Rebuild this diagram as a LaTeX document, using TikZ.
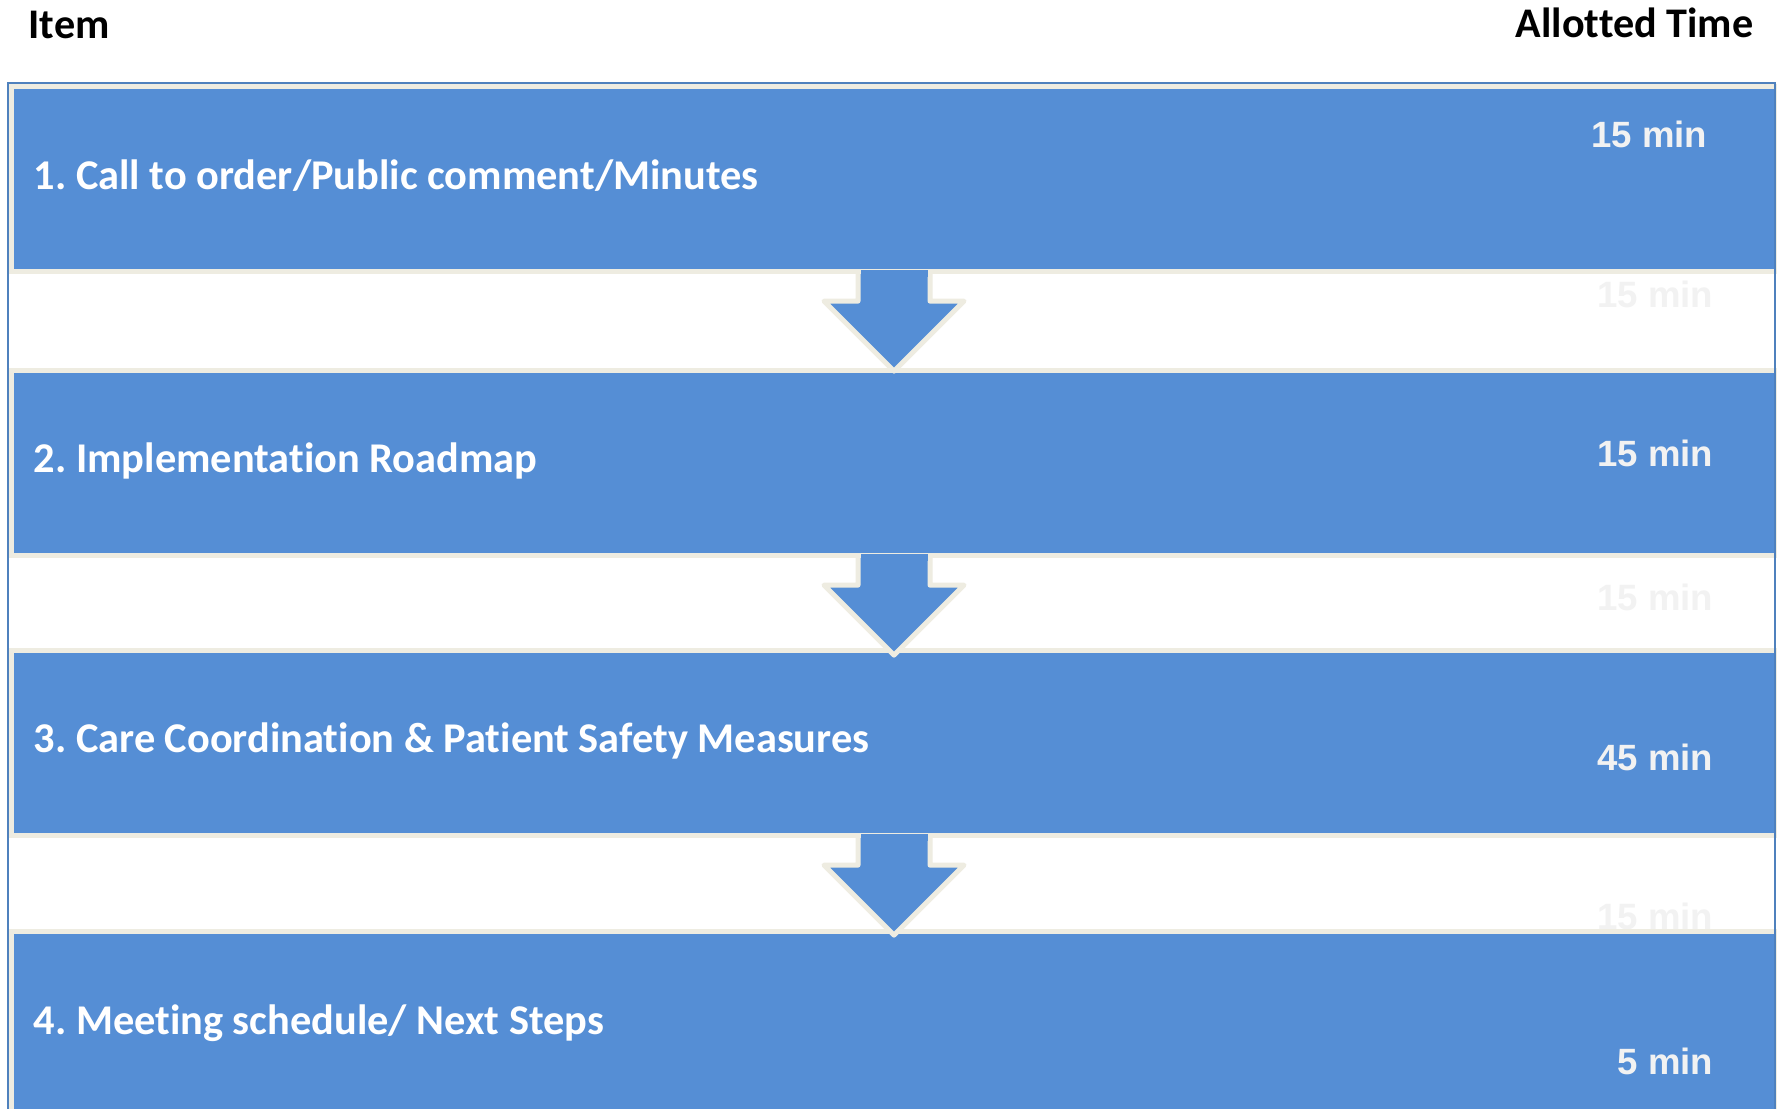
\documentclass[tikz,border=0pt]{standalone}
\usepackage{fontspec}
\setmainfont{Carlito}[Ligatures=NoCommon]
\newfontfamily\timefont{Liberation Sans}
\usetikzlibrary{calc}
\definecolor{barblue}{HTML}{558ED5}
\definecolor{barrim}{HTML}{EEECE1}
\definecolor{frameblue}{HTML}{4F81BD}
\definecolor{timegray}{HTML}{F2F2F2}
\frenchspacing
% block arrow hanging below a bar
\newcommand{\stepdown}[1]{%
  \filldraw[arrowblock] ($(#1.south)+(-36,0)$) -- ++(0,27) -- ++(-34,0) -- ($(#1.south)+(0,97)$) -- ++(70,-70) -- ++(-34,0) -- ++(0,-27);
  \fill[barblue] ($(#1.south)+(-33.5,-4)$) rectangle ($(#1.south)+(33.5,3)$)}

\begin{document}
\begin{tikzpicture}[x=0.01cm, y=-0.01cm,
    bar/.style={rectangle, fill=barblue, draw=barrim, line width=0.5mm, inner sep=0pt,
      minimum width=17.64cm, minimum height=1.85cm, anchor=north west},
    arrowblock/.style={fill=barblue, draw=barrim, line width=0.5mm, line join=round},
    itemtext/.style={anchor=base west, inner sep=0pt, text=white, font=\fontsize{12.05}{14}\selectfont\bfseries},
    headtext/.style={inner sep=0pt, text=black, font=\fontsize{12}{14}\selectfont\bfseries},
    timetext/.style={anchor=base east, inner sep=0pt, text=timegray, font=\timefont\fontsize{10.4}{12}\selectfont\bfseries}]
  \useasboundingbox (0,0) rectangle (1777,1108);
  \fill[white] (0,0) rectangle (1777,1108);

  \node[headtext, anchor=base west] (itemhead) at (28,38) {Item};
  \node[headtext, anchor=base east] (timehead) at (1754,37) {Allotted Time};

  % faint times left in the gaps
  \node[timetext] (ghost1) at (1714,307) {15 min};
  \node[timetext] (ghost2) at (1714,610) {15 min};
  \node[timetext] (ghost3) at (1714,929) {15 min};

  \node[bar] (bar1) at (9,84) {};
  \node[bar] (bar2) at (9,368) {};
  \node[bar] (bar3) at (9,648) {};
  \node[bar, minimum height=2.2cm] (bar4) at (9,929) {};

  \stepdown{bar1};
  \stepdown{bar2};
  \stepdown{bar3};

  \node[itemtext] (item1) at (33,189) {1. Call to order/Public comment/Minutes};
  \node[itemtext] (item2) at (33,472) {2. Implementation Roadmap};
  \node[itemtext] (item3) at (33,752) {3. Care Coordination \& Patient Safety Measures};
  \node[itemtext] (item4) at (33,1034) {4. Meeting schedule/ Next Steps};

  \node[timetext] (time1) at (1708,147) {15 min};
  \node[timetext] (time2) at (1714,466) {15 min};
  \node[timetext] (time3) at (1714,770) {45 min};
  \node[timetext] (time4) at (1714,1074) {5 min};

  \draw[frameblue, line width=0.2mm] (8,1120) -- (8,83) -- (1775,83) -- (1775,1120);
\end{tikzpicture}
\end{document}
